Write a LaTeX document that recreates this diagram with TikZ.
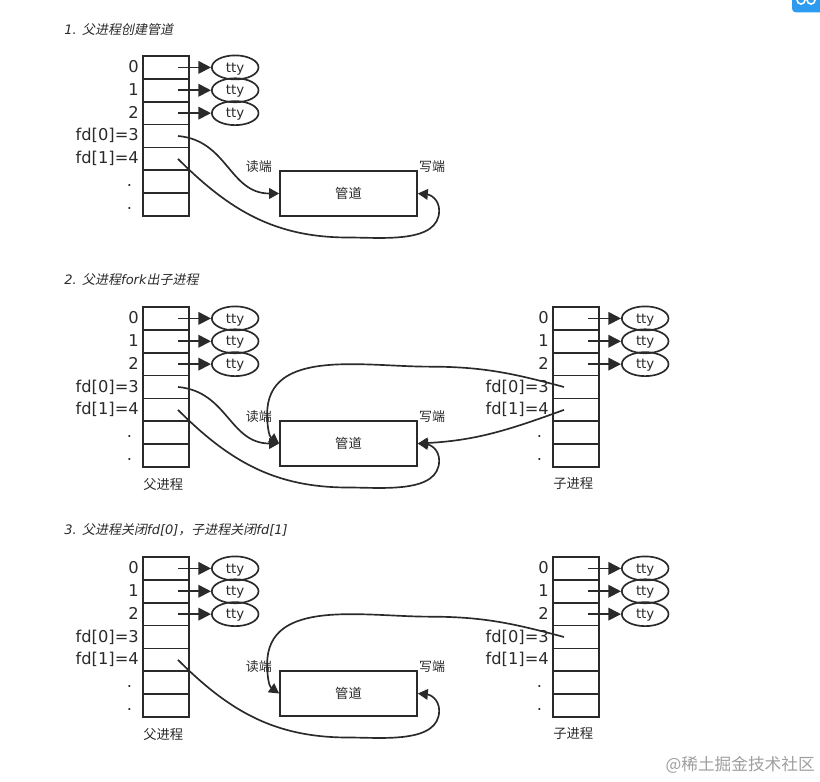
\documentclass[tikz,border=0pt]{standalone}
\usepackage{fontspec}
\setmainfont{DejaVu Sans}
\newfontfamily\cjk{Noto Sans CJK SC}
\newfontfamily\cjkslant[FakeSlant=0.2]{Noto Sans CJK SC}
\usetikzlibrary{positioning, shapes.geometric, arrows.meta}
\definecolor{ink}{HTML}{2A2A2A}
\definecolor{badgeblue}{HTML}{2D9CF0}
\tikzstyle{Fork} = [
    ink,
    line width = 1.25pt,
    -{Triangle[length=7.5pt, width=8pt]}
]
\tikzstyle{TtyArrow} = [
    ink,
    line width = 1.25pt,
    -{Triangle[length=9.5pt, width=9.5pt]}
]
\newcommand{\fdtable}[2]{
    \node [cell] (#1c0) at (#2) {};
    \foreach \i [remember=\i as \j (initially 0)] in {1,...,6}
        \node [cell, below = 0pt of #1c\j] (#1c\i) {};
    \foreach \i/\t in {0/0, 1/1, 2/2, 3/{fd[0]=3}, 4/{fd[1]=4}, 5/{.\kern5pt}, 6/{.\kern5pt}}
        \node [fdlabel, left = 3pt of #1c\i] (#1l\i) {\t};
    \foreach \i in {0,...,6} {
        \coordinate [right = 9pt of #1c\i.center] (#1r\i);
        \coordinate [left = 9pt of #1c\i.center] (#1w\i);
    }
    \foreach \i in {0,1,2} {
        \node [tty, right = 16.5pt of #1c\i] (#1t\i) {tty};
        \draw [TtyArrow] (#1r\i) -- (#1t\i.west);
    }
}
\newcommand{\pipebox}[2]{
    \node [pipe] (#1) at (#2) {\cjk 管道};
    \node [endlabel, above left = -2.25pt and 5.25pt of #1.north west] (#1read) {\cjk 读端};
    \node [endlabel, above right = -2.25pt and 0.75pt of #1.north east] (#1write) {\cjk 写端};
    \coordinate [below = 33pt of #1.center] (#1low);
    \coordinate [below right = 12.75pt and 16pt of #1.east] (#1turn);
    \coordinate [above right = 40pt and 61pt of #1.north] (#1top);
    \coordinate [above left = 4.5pt and 9pt of #1.north west] (#1bend);
}
\begin{document}
\begin{tikzpicture}[
x = 0.75pt, y = -0.75pt,
cell/.style = {
    draw = ink,
    line width = 1.25pt,
    rectangle,
    minimum width = 34.5pt,
    minimum height = 17.15pt,
    inner sep = 0pt,
    outer sep = 0pt
    },
fdlabel/.style = {
    anchor = east,
    inner sep = 0pt,
    text height = 9pt,
    text depth = 1.5pt,
    text = ink,
    font = \fontsize{12.2}{14}\selectfont
    },
tty/.style = {
    draw = ink,
    line width = 1.25pt,
    ellipse,
    minimum width = 35pt,
    minimum height = 18pt,
    inner sep = 0pt,
    text depth = 0pt,
    text = ink,
    font = \fontsize{10}{12}\selectfont
    },
pipe/.style = {
    draw = ink,
    line width = 1.25pt,
    rectangle,
    minimum width = 102.75pt,
    minimum height = 34pt,
    inner sep = 0pt,
    text = ink,
    font = \fontsize{10}{12}\selectfont
    },
endlabel/.style = {inner sep = 0pt, text = ink, font = \fontsize{9.75}{11}\selectfont},
proclabel/.style = {inner sep = 0pt, text = ink, font = \fontsize{10}{12}\selectfont},
steplabel/.style = {anchor = west, inner sep = 0pt, text = ink, font = \fontsize{9.75}{12}\itshape\selectfont}
]

\useasboundingbox (0,0) rectangle (820,781);

\fill [badgeblue, rounded corners = 3pt] (792,-8) rectangle (830,12.5);
\draw [white, line width = 1.2pt] (801,0) circle (4);
\draw [white, line width = 1.2pt] (811,0) circle (4);

\node [steplabel] (step1) at (64,30) {1. {\cjkslant 父进程创建管道}};
\node [steplabel] (step2) at (64,280) {2. {\cjkslant 父进程}fork{\cjkslant 出子进程}};
\node [steplabel] (step3) at (64,530) {3. {\cjkslant 父进程关闭}fd[0]{\cjkslant ，子进程关闭}fd[1]};

\fdtable{fa}{166,67.4}
\pipebox{pa}{348.5,193.5}
\draw [Fork] (far3) to [out=-5, in=180, looseness=1.1] (pa.west);
\draw [Fork] (far4) to [out=-45, in=180] (palow) to [out=0, in=-90, looseness=0.9] (paturn) to [out=90, in=-5, looseness=1.1] (pa.east);

\fdtable{fb}{166,318.4}
\fdtable{sb}{576,318.4}
\pipebox{pb}{348.5,443.5}
\node [proclabel, below right = 8pt and 0pt of fbc6.south west] (fbname) {\cjk 父进程};
\node [proclabel, below right = 8pt and 0pt of sbc6.south west] (sbname) {\cjk 子进程};
\draw [Fork] (fbr3) to [out=-5, in=180, looseness=1.1] (pb.west);
\draw [Fork] (fbr4) to [out=-45, in=180] (pblow) to [out=0, in=-90, looseness=0.9] (pbturn) to [out=90, in=-5, looseness=1.1] (pb.east);
\draw [Fork] (sbw3) to [out=165, in=0] (pbtop) to [out=180, in=90] (pbbend) to [out=-90, in=145] (pb.west);
\draw [Fork] (sbw4) to [out=200, in=3] (pb.east);

\fdtable{fc}{166,568.4}
\fdtable{sc}{576,568.4}
\pipebox{pc}{348.5,693.5}
\node [proclabel, below right = 8pt and 0pt of fcc6.south west] (fcname) {\cjk 父进程};
\node [proclabel, below right = 8pt and 0pt of scc6.south west] (scname) {\cjk 子进程};
\draw [Fork] (fcr4) to [out=-45, in=180] (pclow) to [out=0, in=-90, looseness=0.9] (pcturn) to [out=90, in=-5, looseness=1.1] (pc.east);
\draw [Fork] (scw3) to [out=165, in=0] (pctop) to [out=180, in=90] (pcbend) to [out=-90, in=145] (pc.west);

\node [anchor = east, inner sep = 0pt, text = black!38, font = \fontsize{12.5}{14}\selectfont] (mark) at (815,765) {\cjk @稀土掘金技术社区};

\end{tikzpicture}
\end{document}
